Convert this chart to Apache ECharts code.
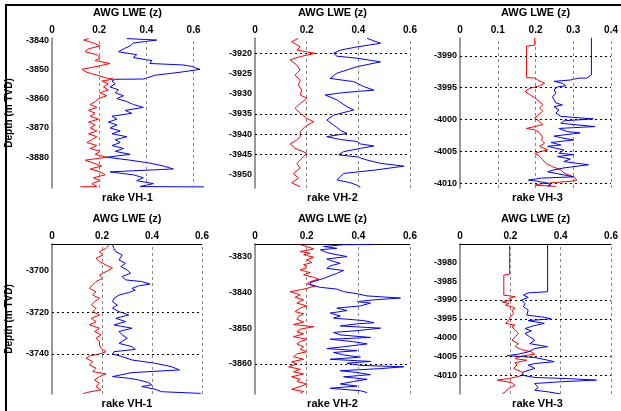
<!DOCTYPE html>
<html>
<head>
<meta charset="utf-8">
<script src="https://cdn.jsdelivr.net/npm/echarts@6/dist/echarts.min.js"></script>
<style>html,body{margin:0;padding:0;background:#fff}#c{width:621px;height:411px}</style>
</head>
<body>
<div id="c"></div>
<script>
// ---------- text ----------
const titleText = 'AWG LWE (z)';
const depthName = 'Depth (m TVD)';
const wellLabels = ['rake VH-1', 'rake VH-2', 'rake VH-3', 'rake VH-1', 'rake VH-2', 'rake VH-3'];

// ---------- tick labels ----------
const xTicksA = [0, 0.2, 0.4, 0.6];
const xTicksB = [0, 0.1, 0.2, 0.3, 0.4];
const yTicks1 = [-3840, -3850, -3860, -3870, -3880];
const yTicks2 = [-3920, -3925, -3930, -3935, -3940, -3945, -3950];
const yTicks3 = [-3990, -3995, -4000, -4005, -4010];
const yTicks4 = [-3700, -3720, -3740];
const yTicks5 = [-3830, -3840, -3850, -3860];
const yTicks6 = [-3980, -3985, -3990, -3995, -4000, -4005, -4010];

// marker (formation) depths drawn as dotted lines
const marks1 = [];
const marks2 = [-3920, -3935, -3940, -3945];
const marks3 = [-3990, -3995, -4000, -4005, -4010];
const marks4 = [-3720, -3740];
const marks5 = [-3860];
const marks6 = [-3990, -3995, -4005, -4010];

// ---------- series values [value, depth] ----------
const red1 = [[0.155,-3839.5],[0.134,-3840],[0.176,-3841],[0.204,-3842],[0.155,-3843],[0.141,-3844],[0.190,-3845],[0.204,-3846],[0.183,-3847],[0.246,-3848],[0.190,-3849],[0.127,-3850],[0.148,-3851],[0.190,-3852],[0.232,-3853],[0.261,-3853.3],[0.211,-3854],[0.239,-3855],[0.218,-3856],[0.239,-3857],[0.204,-3858],[0.232,-3859],[0.197,-3860],[0.183,-3861],[0.162,-3862],[0.190,-3863],[0.155,-3864],[0.183,-3865],[0.162,-3866],[0.197,-3867],[0.155,-3868],[0.183,-3869],[0.162,-3870],[0.190,-3871],[0.155,-3872],[0.190,-3873],[0.169,-3874],[0.148,-3875],[0.190,-3876],[0.162,-3877],[0.204,-3878],[0.183,-3879],[0.232,-3880],[0.141,-3881],[0.176,-3882],[0.211,-3883],[0.162,-3884],[0.204,-3885],[0.225,-3886],[0.176,-3887],[0.204,-3888],[0.169,-3889],[0.190,-3890],[0.120,-3890.1]];
const blue1 = [[0.317,-3839.5],[0.444,-3840],[0.345,-3841],[0.331,-3842],[0.303,-3843],[0.282,-3844],[0.359,-3845],[0.345,-3846],[0.423,-3847],[0.415,-3848],[0.556,-3848.5],[0.592,-3849],[0.627,-3850],[0.542,-3851],[0.437,-3852],[0.387,-3853.3],[0.268,-3853.4],[0.254,-3854],[0.268,-3855],[0.246,-3856],[0.282,-3857],[0.268,-3858],[0.303,-3859],[0.275,-3860],[0.317,-3861],[0.345,-3862],[0.387,-3863],[0.310,-3864],[0.338,-3865],[0.254,-3866],[0.275,-3867],[0.239,-3868],[0.275,-3869],[0.246,-3870],[0.289,-3871],[0.254,-3872],[0.317,-3873],[0.268,-3874],[0.289,-3875],[0.254,-3876],[0.303,-3877],[0.268,-3878],[0.331,-3879],[0.232,-3880],[0.331,-3881],[0.415,-3882],[0.472,-3883],[0.514,-3884],[0.246,-3885],[0.345,-3886],[0.387,-3887],[0.359,-3888],[0.430,-3889],[0.373,-3890],[0.556,-3890.1],[0.655,-3890.1]];

const red2 = [[0.168,-3916.3],[0.142,-3917.1],[0.175,-3918.4],[0.162,-3919.2],[0.233,-3920.0],[0.175,-3920.8],[0.136,-3921.6],[0.162,-3922.9],[0.175,-3924.1],[0.155,-3925.4],[0.175,-3926.6],[0.168,-3927.8],[0.181,-3929.1],[0.175,-3930.3],[0.201,-3931.1],[0.175,-3932.4],[0.155,-3933.6],[0.175,-3934.8],[0.201,-3936.1],[0.227,-3936.9],[0.194,-3938.1],[0.175,-3939.4],[0.175,-3940.6],[0.162,-3941.4],[0.136,-3942.4],[0.155,-3943.5],[0.201,-3944.7],[0.181,-3946.0],[0.162,-3947.2],[0.175,-3948.4],[0.149,-3949.7],[0.168,-3950.9],[0.142,-3952.0],[0.175,-3953.0]];
const blue2 = [[0.434,-3916.3],[0.486,-3917.5],[0.395,-3918.4],[0.330,-3919.2],[0.304,-3920.0],[0.317,-3920.7],[0.395,-3921.2],[0.486,-3922.1],[0.395,-3923.3],[0.317,-3924.9],[0.291,-3926.2],[0.382,-3927.0],[0.421,-3928.2],[0.460,-3929.1],[0.343,-3929.7],[0.272,-3930.3],[0.317,-3931.5],[0.356,-3933.2],[0.382,-3934.0],[0.304,-3935.3],[0.278,-3936.5],[0.304,-3937.7],[0.330,-3939.0],[0.356,-3939.8],[0.278,-3940.6],[0.330,-3941.3],[0.395,-3941.8],[0.408,-3942.4],[0.460,-3942.9],[0.408,-3943.5],[0.343,-3944.3],[0.324,-3945.1],[0.395,-3945.6],[0.434,-3946.4],[0.486,-3947.2],[0.576,-3947.9],[0.460,-3948.9],[0.343,-3949.7],[0.330,-3950.5],[0.317,-3951.3],[0.369,-3952.0],[0.395,-3952.6],[0.408,-3953.1]];

const red3 = [[0.198,-3987.1],[0.198,-3988.3],[0.176,-3988.5],[0.176,-3993.4],[0.198,-3993.5],[0.206,-3993.8],[0.224,-3994.3],[0.211,-3994.7],[0.185,-3995.1],[0.172,-3995.6],[0.185,-3996.1],[0.198,-3996.6],[0.211,-3997.2],[0.219,-3997.7],[0.211,-3998.2],[0.219,-3998.7],[0.206,-3999.3],[0.198,-3999.8],[0.211,-4000.3],[0.219,-4000.8],[0.176,-4001.4],[0.198,-4001.6],[0.211,-4002.1],[0.219,-4002.8],[0.215,-4003.2],[0.224,-4003.7],[0.211,-4004.2],[0.232,-4004.8],[0.215,-4005.0],[0.198,-4005.3],[0.211,-4005.8],[0.219,-4006.3],[0.228,-4006.9],[0.245,-4007.4],[0.267,-4007.9],[0.275,-4008.4],[0.301,-4009.0],[0.310,-4009.5],[0.292,-4009.7],[0.249,-4009.9],[0.215,-4010.1],[0.198,-4010.3],[0.254,-4010.5]];
const blue3 = [[0.348,-3987.1],[0.348,-3993.0],[0.344,-3993.2],[0.335,-3993.5],[0.314,-3993.5],[0.292,-3993.8],[0.249,-3994.0],[0.271,-3994.3],[0.280,-3994.7],[0.258,-3994.9],[0.249,-3995.3],[0.254,-3995.9],[0.245,-3996.4],[0.249,-3996.9],[0.254,-3997.4],[0.271,-3997.7],[0.249,-3998.0],[0.262,-3998.5],[0.254,-3999.0],[0.267,-3999.5],[0.353,-3999.9],[0.275,-4000.2],[0.267,-4000.6],[0.357,-4001.1],[0.262,-4001.4],[0.284,-4001.9],[0.318,-4002.1],[0.249,-4002.6],[0.271,-4002.9],[0.301,-4003.2],[0.241,-4003.6],[0.267,-4004.0],[0.232,-4004.2],[0.275,-4004.8],[0.262,-4005.3],[0.301,-4005.5],[0.258,-4005.8],[0.292,-4006.2],[0.275,-4006.6],[0.340,-4007.1],[0.335,-4007.4],[0.275,-4007.6],[0.249,-4007.9],[0.232,-4008.2],[0.249,-4008.4],[0.301,-4009.0],[0.215,-4009.2],[0.181,-4009.5],[0.206,-4009.7],[0.232,-4010.0],[0.241,-4010.3],[0.232,-4010.5]];

const red4 = [[0.229,-3687.5],[0.216,-3689.1],[0.190,-3690.7],[0.203,-3692.3],[0.176,-3693.9],[0.190,-3695.5],[0.216,-3697.1],[0.242,-3698.7],[0.216,-3700.3],[0.190,-3701.9],[0.203,-3703.5],[0.176,-3705.1],[0.163,-3706.7],[0.150,-3708.4],[0.176,-3710.0],[0.163,-3711.6],[0.190,-3713.2],[0.170,-3714.8],[0.157,-3716.4],[0.176,-3718.0],[0.163,-3719.6],[0.190,-3721.2],[0.157,-3722.8],[0.176,-3724.4],[0.150,-3726.0],[0.190,-3727.6],[0.170,-3729.2],[0.196,-3730.8],[0.176,-3732.4],[0.190,-3734.1],[0.190,-3735.7],[0.196,-3737.3],[0.216,-3738.9],[0.190,-3740.0],[0.150,-3741.0],[0.137,-3742.1],[0.163,-3743.7],[0.150,-3745.3],[0.176,-3746.9],[0.163,-3748.5],[0.216,-3749.6],[0.190,-3750.9],[0.170,-3752.5],[0.190,-3754.1],[0.176,-3755.7],[0.196,-3757.3],[0.137,-3758.6],[0.124,-3759.3]];
const blue4 = [[0.242,-3687.5],[0.248,-3689.1],[0.255,-3690.7],[0.281,-3692.3],[0.288,-3693.1],[0.268,-3694.7],[0.294,-3696.3],[0.275,-3697.9],[0.301,-3699.5],[0.314,-3701.1],[0.281,-3702.7],[0.294,-3704.3],[0.359,-3705.1],[0.392,-3706.3],[0.346,-3707.2],[0.320,-3708.4],[0.333,-3709.2],[0.307,-3710.4],[0.268,-3711.6],[0.248,-3713.2],[0.242,-3714.8],[0.261,-3716.4],[0.242,-3718.0],[0.268,-3719.6],[0.307,-3721.2],[0.255,-3722.8],[0.294,-3724.4],[0.248,-3726.0],[0.320,-3727.6],[0.268,-3729.2],[0.281,-3730.8],[0.301,-3732.4],[0.294,-3733.3],[0.268,-3734.9],[0.320,-3736.5],[0.333,-3737.8],[0.248,-3738.9],[0.242,-3740.0],[0.281,-3741.3],[0.320,-3742.9],[0.412,-3744.5],[0.477,-3746.1],[0.510,-3747.7],[0.320,-3749.0],[0.275,-3750.1],[0.242,-3750.9],[0.307,-3751.7],[0.346,-3752.5],[0.386,-3753.8],[0.399,-3754.9],[0.359,-3755.7],[0.412,-3757.0],[0.438,-3758.2],[0.595,-3759.0]];

const red5 = [[0.175,-3826.7],[0.201,-3827.2],[0.227,-3827.9],[0.175,-3828.6],[0.214,-3829.1],[0.188,-3829.5],[0.227,-3830.2],[0.201,-3830.9],[0.220,-3831.7],[0.188,-3832.3],[0.201,-3833.1],[0.175,-3833.7],[0.214,-3834.5],[0.188,-3835.1],[0.227,-3835.8],[0.246,-3836.3],[0.214,-3837.0],[0.201,-3837.6],[0.233,-3838.2],[0.201,-3838.9],[0.175,-3839.3],[0.136,-3839.8],[0.175,-3840.7],[0.155,-3841.4],[0.188,-3842.1],[0.162,-3843.0],[0.201,-3843.8],[0.175,-3844.4],[0.155,-3845.4],[0.188,-3846.0],[0.168,-3846.8],[0.162,-3847.5],[0.188,-3848.3],[0.149,-3849.0],[0.227,-3849.6],[0.175,-3850.3],[0.162,-3851.0],[0.188,-3851.6],[0.149,-3852.4],[0.201,-3853.1],[0.175,-3853.8],[0.162,-3854.4],[0.188,-3855.2],[0.175,-3855.9],[0.201,-3856.6],[0.162,-3857.2],[0.149,-3858.0],[0.188,-3858.7],[0.142,-3859.4],[0.162,-3860.0],[0.130,-3860.8],[0.175,-3861.5],[0.149,-3862.2],[0.188,-3862.8],[0.142,-3863.6],[0.175,-3864.3],[0.162,-3864.9],[0.201,-3865.6],[0.175,-3866.3],[0.142,-3867.1],[0.188,-3867.7],[0.175,-3868.2]];
const blue5 = [[0.460,-3826.6],[0.343,-3826.7],[0.266,-3827.2],[0.317,-3827.7],[0.253,-3828.1],[0.278,-3828.9],[0.317,-3829.5],[0.356,-3830.0],[0.278,-3830.7],[0.304,-3831.4],[0.330,-3831.9],[0.291,-3832.6],[0.278,-3833.3],[0.343,-3833.9],[0.317,-3834.7],[0.291,-3835.4],[0.266,-3836.1],[0.240,-3836.7],[0.214,-3837.3],[0.214,-3837.9],[0.253,-3838.6],[0.317,-3839.1],[0.343,-3839.8],[0.395,-3840.4],[0.434,-3841.0],[0.563,-3841.6],[0.460,-3842.1],[0.395,-3842.6],[0.447,-3843.0],[0.408,-3843.8],[0.317,-3844.4],[0.356,-3845.1],[0.291,-3845.8],[0.330,-3846.6],[0.304,-3847.2],[0.421,-3847.9],[0.460,-3848.5],[0.395,-3848.8],[0.330,-3849.4],[0.486,-3850.0],[0.395,-3850.7],[0.304,-3851.2],[0.330,-3851.9],[0.447,-3852.6],[0.291,-3853.1],[0.382,-3853.8],[0.434,-3854.4],[0.343,-3855.2],[0.278,-3855.7],[0.395,-3856.3],[0.304,-3856.8],[0.343,-3857.5],[0.408,-3858.1],[0.291,-3858.7],[0.447,-3859.3],[0.356,-3859.8],[0.408,-3860.4],[0.576,-3860.8],[0.486,-3861.3],[0.330,-3861.9],[0.395,-3862.4],[0.447,-3863.0],[0.343,-3863.6],[0.434,-3864.3],[0.382,-3864.9],[0.330,-3865.6],[0.395,-3866.2],[0.291,-3866.8],[0.408,-3867.5],[0.434,-3868.0]];

const red6 = [[0.197,-3975.4],[0.197,-3983.1],[0.174,-3983.4],[0.174,-3988.7],[0.219,-3989.1],[0.194,-3989.6],[0.206,-3990.0],[0.168,-3990.5],[0.194,-3990.9],[0.181,-3991.4],[0.206,-3991.8],[0.219,-3992.2],[0.206,-3992.7],[0.213,-3993.6],[0.200,-3994.5],[0.194,-3995.4],[0.181,-3996.2],[0.219,-3996.7],[0.206,-3997.1],[0.219,-3998.0],[0.232,-3998.9],[0.219,-3999.8],[0.206,-4000.7],[0.232,-4001.6],[0.219,-4002.4],[0.245,-4003.2],[0.284,-4003.8],[0.297,-4004.4],[0.245,-4004.9],[0.219,-4005.6],[0.265,-4006.0],[0.219,-4006.7],[0.226,-4007.3],[0.213,-4008.2],[0.245,-4009.1],[0.252,-4010.0],[0.194,-4010.9],[0.148,-4011.3],[0.155,-4011.8],[0.206,-4012.0],[0.219,-4012.7],[0.194,-4013.5],[0.181,-4014.4],[0.168,-4014.9]];
const blue6 = [[0.348,-3975.4],[0.348,-3987.8],[0.271,-3988.1],[0.252,-3988.7],[0.271,-3989.3],[0.245,-3990.0],[0.258,-3990.9],[0.252,-3991.8],[0.271,-3992.7],[0.265,-3994.0],[0.335,-3994.6],[0.361,-3995.0],[0.271,-3995.5],[0.335,-3996.2],[0.290,-3996.9],[0.258,-3997.6],[0.284,-3998.2],[0.258,-3998.9],[0.277,-3999.8],[0.297,-4000.7],[0.277,-4001.6],[0.348,-4002.4],[0.297,-4002.9],[0.271,-4003.8],[0.232,-4004.4],[0.187,-4004.8],[0.297,-4005.3],[0.348,-4006.0],[0.374,-4006.4],[0.297,-4006.9],[0.271,-4007.3],[0.297,-4008.2],[0.252,-4009.1],[0.245,-4010.0],[0.297,-4010.6],[0.426,-4010.9],[0.542,-4011.3],[0.387,-4011.8],[0.297,-4012.2],[0.290,-4012.7],[0.310,-4013.3],[0.297,-4014.0],[0.348,-4014.4],[0.400,-4015.0]];

// ---------- layout ----------
const FONT = '"Liberation Sans", Arial, sans-serif';
const panels = [
  {left:52,  top:38,  width:151, xMax:0.64, yMin:-3890.5, yMax:-3839.3, xt:xTicksA, yt:yTicks1, marks:marks1, red:red1, blue:blue1, yName:true,  topLine:false},
  {left:255, top:38,  width:155, xMax:0.6,  yMin:-3953.3, yMax:-3916.2, xt:xTicksA, yt:yTicks2, marks:marks2, red:red2, blue:blue2, yName:false, topLine:false},
  {left:460, top:38,  width:155, xMax:0.4,  yMin:-4010.75,yMax:-3987.2, xt:xTicksB, yt:yTicks3, marks:marks3, red:red3, blue:blue3, yName:false, topLine:false},
  {left:52,  top:244, width:150, xMax:0.6,  yMin:-3759.3, yMax:-3687.0, xt:xTicksA, yt:yTicks4, marks:marks4, red:red4, blue:blue4, yName:true,  topLine:true},
  {left:255, top:244, width:155, xMax:0.6,  yMin:-3868.4, yMax:-3826.5, xt:xTicksA, yt:yTicks5, marks:marks5, red:red5, blue:blue5, yName:false, topLine:true},
  {left:460, top:244, width:155, xMax:0.6,  yMin:-4015.0, yMax:-3975.1, xt:xTicksA, yt:yTicks6, marks:marks6, red:red6, blue:blue6, yName:false, topLine:true}
];
const H = 150;

const grid = [], xAxis = [], yAxis = [], series = [], graphic = [];
panels.forEach((p, i) => {
  grid.push({left:p.left, top:p.top, width:p.width, height:H, containLabel:false});
  xAxis.push({
    type:'value', gridIndex:i, position:'top', min:0, max:p.xMax,
    name:titleText, nameLocation:'middle', nameGap:20,
    nameTextStyle:{fontFamily:FONT, fontWeight:'bold', fontSize:11, color:'#000'},
    axisLine:{show:p.topLine, lineStyle:{color:'#000', width:1}},
    axisTick:{show:false},
    splitLine:{show:false},
    axisLabel:{customValues:p.xt, fontFamily:FONT, fontWeight:'bold', fontSize:10, color:'#000', margin:3,
      formatter:v => (v === 0 ? '0' : v.toFixed(1))}
  });
  yAxis.push({
    type:'value', gridIndex:i, min:p.yMin, max:p.yMax,
    name:p.yName ? depthName : '', nameLocation:'middle', nameGap:38, nameRotate:90,
    nameTextStyle:{fontFamily:FONT, fontWeight:'bold', fontSize:10, color:'#000'},
    axisLine:{show:true, lineStyle:{color:'#777', width:1.5}},
    axisTick:{show:false},
    splitLine:{show:false},
    axisLabel:{customValues:p.yt, fontFamily:FONT, fontWeight:'bold', fontSize:9, color:'#000', margin:3,
      formatter:v => String(v)}
  });
  const ml = [];
  p.xt.forEach(v => { if (v > 0) ml.push({xAxis:v, lineStyle:{color:'#888', type:[3,3], width:1}}); });
  p.marks.forEach(v => ml.push({yAxis:v, lineStyle:{color:'#000', type:[2,3], width:1}}));
  series.push({
    type:'line', xAxisIndex:i, yAxisIndex:i, data:[], z:1, silent:true,
    markLine:{silent:true, symbol:['none','none'], label:{show:false}, data:ml, animation:false}
  });
  series.push({
    type:'line', xAxisIndex:i, yAxisIndex:i, data:p.red, showSymbol:false, symbol:'none', z:3,
    lineStyle:{color:'#ff0000', width:1}, itemStyle:{color:'#ff0000'}
  });
  series.push({
    type:'line', xAxisIndex:i, yAxisIndex:i, data:p.blue, showSymbol:false, symbol:'none', z:3,
    lineStyle:{color:'#0000ff', width:1}, itemStyle:{color:'#0000ff'}
  });
  graphic.push({
    type:'text', x:p.left + p.width / 2, y:p.top + H + 10,
    style:{text:wellLabels[i], font:'bold 11px ' + FONT, fill:'#000', align:'center', verticalAlign:'middle'}
  });
});
graphic.push({type:'line', shape:{x1:5, y1:5, x2:621, y2:5}, style:{stroke:'#000', lineWidth:2}});
graphic.push({type:'line', shape:{x1:6, y1:5, x2:6, y2:411}, style:{stroke:'#000', lineWidth:2}});

const chart = echarts.init(document.getElementById('c'), null, {renderer:'canvas'});
chart.setOption({animation:false, backgroundColor:'#fff', grid, xAxis, yAxis, series, graphic});
</script>
</body>
</html>
